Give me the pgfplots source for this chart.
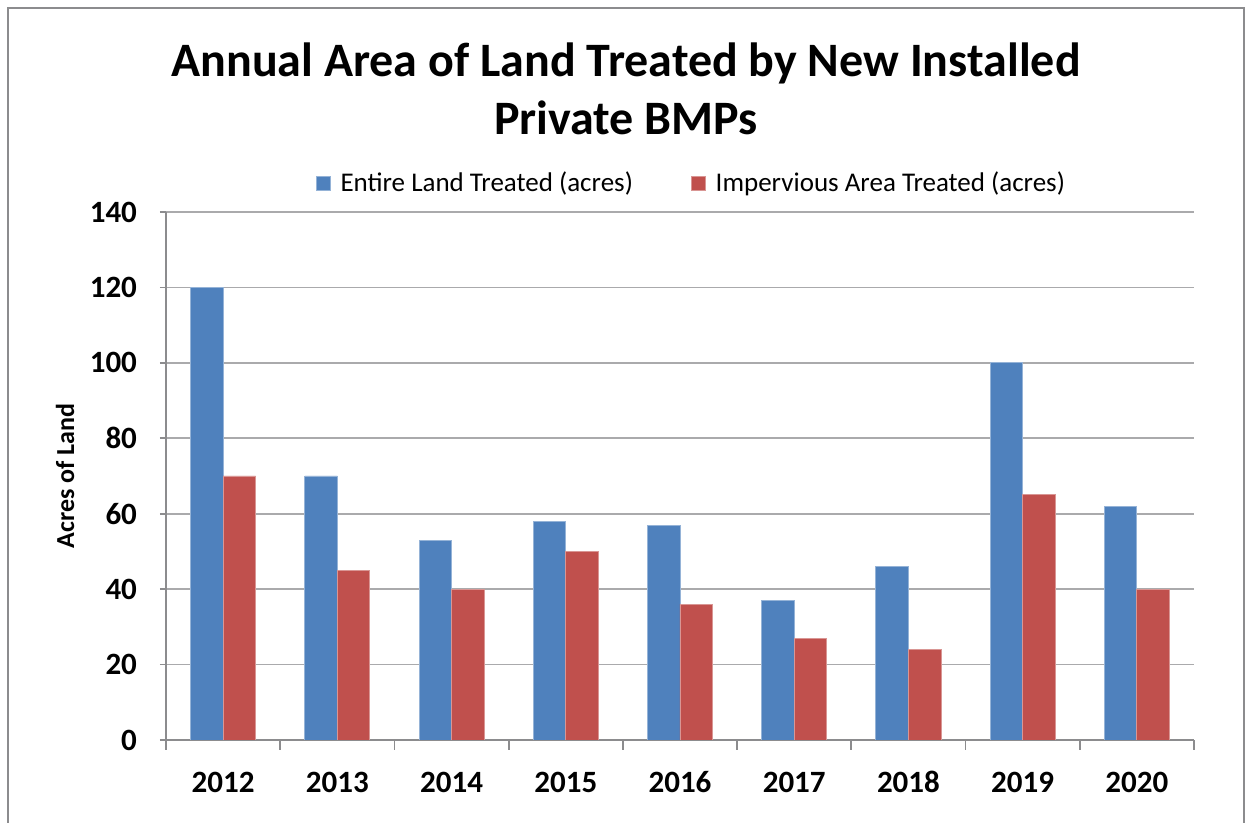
\documentclass[border=0pt]{standalone}
\usepackage{pgfplots}
\pgfplotsset{compat=1.18}
\usepackage{fontspec}
\setmainfont{Carlito}
\definecolor{cblue}{RGB}{79,129,189}
\definecolor{cred}{RGB}{192,80,77}
\definecolor{cgrid}{RGB}{170,170,172}
\definecolor{caxis}{RGB}{140,140,142}
\begin{document}
\begin{tikzpicture}
\clip (0,0) rectangle (624.5pt,411.5pt);
\path[use as bounding box] (0,0) rectangle (624.5pt,411.5pt);
\draw[color=caxis,line width=0.8pt] (4pt,-10pt) rectangle (622pt,407.5pt);
\node[font=\bfseries\fontsize{24}{29}\selectfont,align=center,anchor=center] at (313pt,367pt) {Annual Area of Land Treated by New Installed\\Private BMPs};
\begin{axis}[
  scale only axis,
  width=514pt, height=264pt,
  at={(83pt,41.5pt)}, anchor=south west,
  xmin=-0.5, xmax=8.5, ymin=0, ymax=140,
  ytick={0,20,...,140},
  xtick={0,...,8},
  xticklabels={2012,2013,2014,2015,2016,2017,2018,2019,2020},
  minor xtick={-0.5,0.5,...,8.5},
  axis x line*=bottom, axis y line*=left,
  axis line style={color=caxis,line width=0.9pt,-},
  ymajorgrids, major grid style={color=cgrid,line width=0.9pt},
  major x tick style={draw=none},
  minor x tick style={color=caxis,line width=0.9pt},
  major y tick style={color=caxis,line width=0.9pt},
  tick align=outside,
  major tick length=3pt, minor tick length=5pt,
  /pgf/number format/assume math mode=true,
  ticklabel style={font=\bfseries\fontsize{15.5}{18}\selectfont},
  yticklabel style={xshift=-8pt},
  xticklabel style={yshift=-8.5pt, text height=11pt, text depth=0pt},
  ylabel={Acres of Land},
  every axis y label/.style={at={([xshift=-50.5pt]axis description cs:0,0.5)},rotate=90,anchor=center,
     font=\bfseries\fontsize{13}{15}\selectfont},
  legend style={at={(0.512,1.055)},anchor=center,draw=none,fill=none,
    legend columns=2, font=\fontsize{13.5}{16}\selectfont,
    /tikz/every odd column/.append style={column sep=3pt},
    /tikz/every even column/.append style={column sep=27pt}},
  legend image code/.code={\fill[#1] (0pt,-3.5pt) rectangle (7pt,3.5pt);},
]
\addplot[ybar, bar width=0.285, bar shift=-0.1425, fill=cblue, draw=cblue!60!white, line width=0.4pt]
  coordinates {(0,120) (1,70) (2,53) (3,58) (4,57) (5,37) (6,46) (7,100) (8,62)};
\addlegendentry{Entire Land Treated (acres)}
\addplot[ybar, bar width=0.285, bar shift=0.1425, fill=cred, draw=cred!60!white, line width=0.4pt]
  coordinates {(0,70) (1,45) (2,40) (3,50) (4,36) (5,27) (6,24) (7,65) (8,40)};
\addlegendentry{Impervious Area Treated (acres)}
\end{axis}
\end{tikzpicture}
\end{document}
